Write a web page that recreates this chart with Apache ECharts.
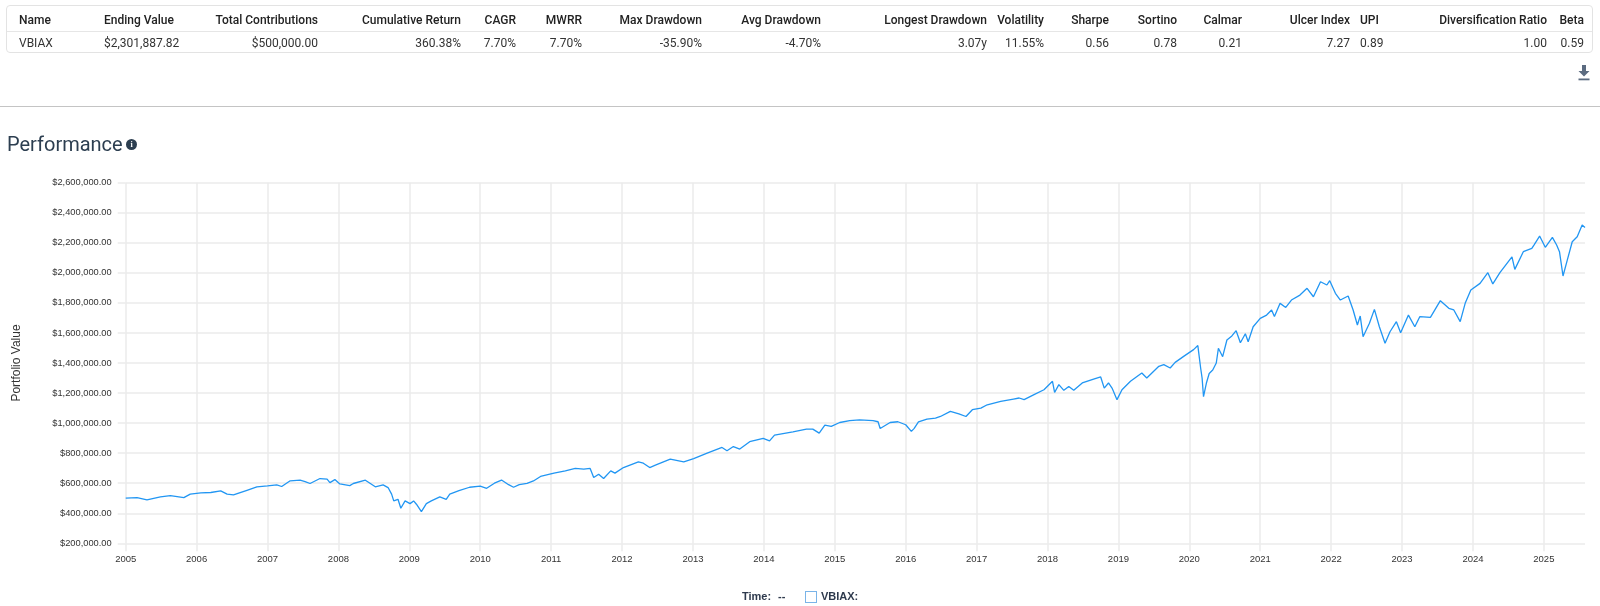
<!DOCTYPE html>
<html>
<head>
<meta charset="utf-8">
<script src="https://cdn.jsdelivr.net/npm/echarts@6/dist/echarts.min.js"></script>
<style>
  html, body { margin: 0; padding: 0; background: #fff; }
  body { width: 1600px; height: 606px; position: relative; overflow: hidden; font-family: Roboto, "Liberation Sans", sans-serif; }
  #chart { position: absolute; left: 0; top: 0; width: 1600px; height: 606px; }
  .overlay { position: absolute; pointer-events: none; }
  #tbl { left: 6px; top: 5px; width: 1587px; height: 48px; border: 1px solid #e3e3e3; border-radius: 4px; box-sizing: border-box; }
  #tbl .sep { position: absolute; left: 0; right: 0; top: 25px; height: 1px; background: #e6e6e6; }
  .cell { position: absolute; font-size: 12px; color: #333; white-space: nowrap; line-height: 14px; }
  .hd { font-weight: 500; color: #222; }
  #divider { left: 0; top: 106px; width: 1600px; height: 1px; background: #c4c4c4; }
  #title { left: 7px; top: 131px; font-size: 20px; color: #2c3e50; font-family: Roboto, sans-serif; line-height: 26px; }
  #info { left: 126px; top: 139px; width: 11px; height: 11px; border-radius: 50%; background: #2c3e50; color: #fff; font: bold 8px "Liberation Serif", serif; text-align: center; line-height: 11px; }
  #dl { left: 1577px; top: 64px; }
  #legend { left: 0; top: 590px; width: 1600px; height: 16px; font-family: "Liberation Sans", Arial, sans-serif; font-size: 11px; font-weight: bold; color: #2e3a4d; }
</style>
</head>
<body>
<div id="chart"></div>
<div id="tbl" class="overlay"><div class="sep"></div></div>
<div id="divider" class="overlay"></div>
<div id="title" class="overlay">Performance</div>
<div id="info" class="overlay">i</div>
<svg id="dl" class="overlay" width="14" height="17" viewBox="0 0 14 17">
  <path d="M5 1 H9 V7 H12.5 L7 12.5 L1.5 7 H5 Z" fill="#5b6b80"/>
  <rect x="1.5" y="14.5" width="11" height="1.8" fill="#5b6b80"/>
</svg>
<div id="legend" class="overlay">
  <span style="position:absolute;left:742px;top:0;">Time:</span>
  <span style="position:absolute;left:778px;top:0;">--</span>
  <span style="position:absolute;left:805px;top:1px;width:10px;height:10px;border:1.3px solid #7ab4e8;"></span>
  <span style="position:absolute;left:821px;top:0;">VBIAX:</span>
</div>
<script>
// ---- table data ----
const tableHeaders = ["Name","Ending Value","Total Contributions","Cumulative Return","CAGR","MWRR","Max Drawdown","Avg Drawdown","Longest Drawdown","Volatility","Sharpe","Sortino","Calmar","Ulcer Index","UPI","Diversification Ratio","Beta"];
const tableRow = ["VBIAX","$2,301,887.82","$500,000.00","360.38%","7.70%","7.70%","-35.90%","-4.70%","3.07y","11.55%","0.56","0.78","0.21","7.27","0.89","1.00","0.59"];
const colAnchor = [19,104,318,461,516,582,702,821,987,1044,1109,1177,1242,1350,1360,1547,1584];
const colAlign = ["l","l","r","r","r","r","r","r","r","r","r","r","r","r","l","r","r"];

// ---- series data (decimal year, portfolio value) ----
const years = [
2005.00,2005.16,2005.30,2005.49,2005.63,2005.82,2005.91,2006.06,2006.20,2006.34,2006.43,2006.52,2006.71,2006.85,
2007.00,2007.13,2007.20,2007.32,2007.46,2007.53,2007.60,2007.74,2007.84,2007.88,2007.95,
2008.02,2008.16,2008.21,2008.38,2008.52,2008.63,2008.70,2008.75,2008.78,2008.84,2008.88,2008.94,
2009.01,2009.06,2009.10,2009.17,2009.24,2009.31,2009.43,2009.52,2009.57,2009.70,2009.85,
2010.00,2010.09,2010.20,2010.30,2010.40,2010.47,2010.55,2010.66,2010.75,2010.85,
2011.04,2011.20,2011.34,2011.46,2011.55,2011.60,2011.67,2011.74,2011.84,2011.90,
2012.02,2012.23,2012.30,2012.39,2012.47,2012.68,2012.87,
2013.01,2013.20,2013.41,2013.48,2013.57,2013.66,2013.80,2013.99,
2014.08,2014.15,2014.41,2014.60,2014.69,2014.78,2014.86,2014.95,
2015.07,2015.21,2015.35,2015.54,2015.61,2015.64,2015.78,2015.89,
2016.00,2016.08,2016.12,2016.18,2016.30,2016.42,2016.49,2016.63,2016.75,2016.85,2016.94,
2017.06,2017.15,2017.34,2017.52,2017.60,2017.67,2017.81,2017.95,
2018.07,2018.10,2018.16,2018.23,2018.30,2018.37,2018.49,2018.65,2018.75,2018.80,2018.86,2018.91,2018.98,
2019.05,2019.17,2019.33,2019.40,2019.57,2019.64,2019.73,2019.80,2019.92,
2020.06,2020.12,2020.16,2020.18,2020.20,2020.24,2020.28,2020.33,2020.38,2020.41,2020.43,2020.47,2020.53,2020.60,2020.66,2020.72,2020.79,2020.83,2020.90,
2021.00,2021.09,2021.16,2021.20,2021.28,2021.36,2021.44,2021.56,2021.66,2021.75,2021.85,2021.94,2021.98,
2022.06,2022.13,2022.24,2022.31,2022.37,2022.41,2022.45,2022.54,2022.61,2022.68,2022.76,2022.83,2022.92,2022.98,
2023.09,2023.18,2023.25,2023.40,2023.54,2023.66,2023.73,2023.82,2023.89,2023.97,
2024.10,2024.21,2024.28,2024.38,2024.55,2024.59,2024.71,2024.83,2024.86,2024.94,
2025.02,2025.12,2025.18,2025.22,2025.27,2025.33,2025.40,2025.47,2025.54,2025.58];
const values = [
500000,504000,489000,509000,518000,504000,527000,536000,538000,549000,527000,522000,553000,576000,
582000,589000,578000,616000,620000,611000,598000,631000,627000,604000,624000,
595000,584000,598000,620000,576000,589000,571000,527000,482000,493000,433000,482000,
464000,482000,460000,411000,464000,482000,509000,493000,528000,550000,573000,
581000,566000,600000,621000,590000,573000,590000,599000,615000,645000,
667000,682000,698000,693000,698000,638000,660000,631000,682000,667000,
704000,742000,733000,704000,720000,760000,742000,
764000,800000,838000,816000,844000,827000,876000,898000,
882000,920000,942000,960000,960000,933000,987000,978000,
1004000,1016000,1022000,1016000,1009000,964000,1004000,1009000,
989000,945000,965000,1008000,1027000,1033000,1044000,1078000,1062000,1044000,1089000,
1100000,1122000,1144000,1160000,1167000,1156000,1189000,1222000,
1278000,1204000,1256000,1218000,1244000,1218000,1267000,1293000,1307000,1233000,1267000,1233000,1156000,
1222000,1278000,1333000,1300000,1378000,1389000,1367000,1404000,1444000,
1489000,1516000,1365000,1300000,1176000,1265000,1330000,1353000,1400000,1498000,1486000,1442000,1553000,1580000,1615000,1535000,1595000,1541000,1641000,
1697000,1719000,1753000,1709000,1797000,1770000,1819000,1852000,1897000,1841000,1941000,1919000,1948000,
1864000,1819000,1846000,1753000,1653000,1713000,1575000,1664000,1757000,1641000,1531000,1608000,1675000,1601000,
1719000,1641000,1708000,1704000,1815000,1764000,1753000,1675000,1797000,1886000,
1930000,2001000,1926000,2001000,2107000,2023000,2141000,2163000,2185000,2245000,
2170000,2236000,2185000,2141000,1979000,2085000,2207000,2240000,2318000,2301888];

// ---- axis ----
const yMin = 200000, yMax = 2600000, yStep = 200000;
const xMin = 2005, xStep = 1;

// build table
const tbl = document.getElementById('tbl');
tableHeaders.forEach((h, i) => {
  [[h, 7, true], [tableRow[i], 30, false]].forEach(([txt, top, isHd]) => {
    const d = document.createElement('div');
    d.className = 'cell' + (isHd ? ' hd' : '');
    d.textContent = txt;
    d.style.top = top + 'px';
    const ax = colAnchor[i] - 7;
    if (colAlign[i] === 'l') d.style.left = ax + 'px';
    else d.style.right = (1587 - 2 - ax) + 'px';
    tbl.appendChild(d);
  });
});

const chart = echarts.init(document.getElementById('chart'), null, { renderer: 'canvas' });
const gridColor = '#ebebeb';
chart.setOption({
  animation: false,
  grid: { left: 125.7, right: 15, top: 182.7, bottom: 62.7, containLabel: false },
  xAxis: {
    type: 'value',
    min: xMin,
    max: years[years.length - 1],
    interval: xStep,
    axisLine: { show: false },
    axisTick: { show: true, length: 8, lineStyle: { color: gridColor, width: 1.5 } },
    splitLine: { show: true, showMaxLine: false, lineStyle: { color: gridColor, width: 1.5 } },
    axisLabel: {
      color: '#333', fontSize: 9.5, fontFamily: 'Liberation Sans, Arial, sans-serif', margin: 11,
      showMaxLabel: false,
      formatter: v => (Math.abs(v - Math.round(v)) < 1e-6 ? String(Math.round(v)) : '')
    }
  },
  yAxis: {
    type: 'value',
    min: yMin, max: yMax, interval: yStep,
    name: 'Portfolio Value',
    nameLocation: 'middle',
    nameGap: 103,
    nameTextStyle: { color: '#333', fontSize: 12, fontFamily: 'Liberation Sans, Arial, sans-serif' },
    axisLine: { show: false },
    axisTick: { show: true, length: 8, lineStyle: { color: gridColor, width: 1.5 } },
    splitLine: { show: true, lineStyle: { color: gridColor, width: 1.5 } },
    axisLabel: {
      color: '#333', fontSize: 9.3, fontFamily: 'Liberation Sans, Arial, sans-serif', margin: 14,
      formatter: v => '$' + v.toLocaleString('en-US', { minimumFractionDigits: 2, maximumFractionDigits: 2 })
    }
  },
  series: [{
    name: 'VBIAX',
    type: 'line',
    data: years.map((y, i) => [y, values[i]]),
    showSymbol: false,
    symbol: 'none',
    lineStyle: { color: '#2196f3', width: 1.3 },
    itemStyle: { color: '#2196f3' }
  }]
});
</script>
</body>
</html>
